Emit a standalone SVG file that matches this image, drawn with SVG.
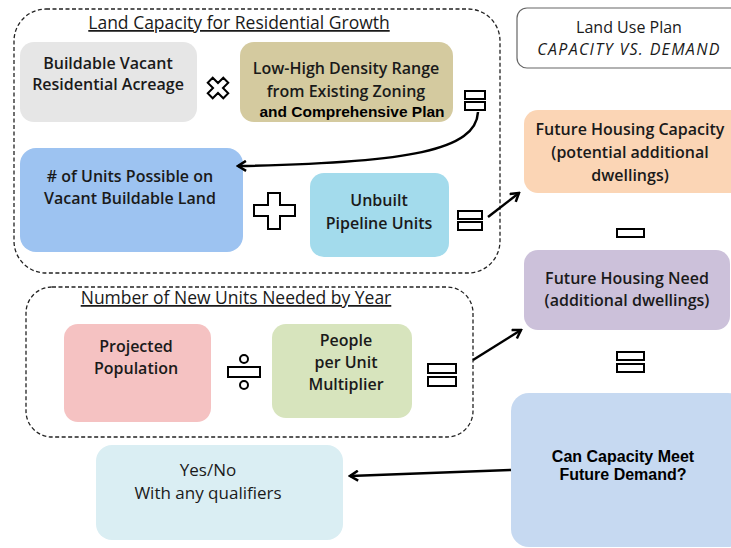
<svg xmlns="http://www.w3.org/2000/svg" width="731" height="548" viewBox="0 0 731 548">
<defs>
<style>
.t{font-family:"Open Sans",Lato,"Liberation Sans",sans-serif;font-size:16px;font-weight:600;fill:#1a1a1a;text-anchor:middle}
.a{font-family:"Liberation Sans",Arial,sans-serif;font-size:15.5px;font-weight:bold;fill:#000;text-anchor:middle}
.h{font-family:"Open Sans",Lato,"Liberation Sans",sans-serif;font-size:17.5px;font-weight:500;fill:#1a1a1a;text-anchor:middle;text-decoration:underline}
.grp{fill:none;stroke:#222;stroke-width:1.3;stroke-dasharray:4 2.5}
.sym{fill:#fff;stroke:#000;stroke-width:2}
.con{fill:none;stroke:#000;stroke-width:2.5}
</style>
<marker id="arr" viewBox="0 0 12 12" refX="10" refY="6" markerWidth="12" markerHeight="12" markerUnits="userSpaceOnUse" orient="auto">
<path d="M2,1 L10,6 L2,11" fill="none" stroke="#000" stroke-width="2.5"/>
</marker>
</defs>

<g id="group-land-capacity">
<rect class="grp" x="14" y="9" width="486" height="264" rx="32"/>
<text class="h" x="239" y="29">Land Capacity for Residential Growth</text>
</g>

<g id="group-new-units">
<rect class="grp" x="26" y="287" width="447" height="150" rx="26"/>
<text class="h" x="236" y="304">Number of New Units Needed by Year</text>
</g>

<g id="node-buildable">
<rect x="20" y="42" width="177" height="80" rx="14" fill="#e6e6e6"/>
<text class="t" x="108" y="69">Buildable Vacant</text>
<text class="t" x="108" y="90">Residential Acreage</text>
</g>

<g id="op-multiply">
<path class="sym" transform="translate(218,88) rotate(45)" d="M-3.5,-11 H3.5 V-3.5 H11 V3.5 H3.5 V11 H-3.5 V3.5 H-11 V-3.5 H-3.5 Z"/>
</g>

<g id="node-density">
<rect x="240" y="42" width="213" height="80" rx="14" fill="#d4ca9f"/>
<text class="t" x="346" y="74">Low-High Density Range</text>
<text class="t" x="346" y="97">from Existing Zoning</text>
<text class="a" x="352" y="117">and Comprehensive Plan</text>
</g>

<g id="op-equals-1">
<rect class="sym" x="465" y="91" width="20" height="8"/>
<rect class="sym" x="465" y="102" width="20" height="8"/>
</g>

<g id="node-units-possible">
<rect x="20" y="148" width="223" height="104" rx="16" fill="#9dc3f1"/>
<text class="t" x="130" y="182"># of Units Possible on</text>
<text class="t" x="130" y="204">Vacant Buildable Land</text>
</g>

<g id="op-plus">
<path class="sym" d="M268,193 H280 V205 H295 V216 H280 V229 H268 V216 H254 V205 H268 Z"/>
</g>

<g id="node-pipeline">
<rect x="310" y="173" width="139" height="84" rx="14" fill="#a3dbec"/>
<text class="t" x="379" y="206">Unbuilt</text>
<text class="t" x="379" y="229">Pipeline Units</text>
</g>

<g id="op-equals-2">
<rect class="sym" x="458" y="211" width="24" height="8"/>
<rect class="sym" x="458" y="222" width="24" height="8"/>
</g>

<g id="node-land-use-plan">
<rect x="517" y="8" width="230" height="60" rx="10" fill="#fff" stroke="#666" stroke-width="1.2"/>
<text class="t" x="629" y="33" style="font-weight:500">Land Use Plan</text>
<text class="t" x="629" y="55" style="font-style:italic;font-weight:500;letter-spacing:1.3px">CAPACITY VS. DEMAND</text>
</g>

<g id="node-capacity">
<rect x="524" y="110" width="220" height="83" rx="14" fill="#fbd5b5"/>
<text class="t" x="630" y="135">Future Housing Capacity</text>
<text class="t" x="630" y="158">(potential additional</text>
<text class="t" x="630" y="181">dwellings)</text>
</g>

<g id="op-minus">
<rect class="sym" x="617" y="229" width="27" height="8"/>
</g>

<g id="node-need">
<rect x="524" y="250" width="206" height="80" rx="14" fill="#ccc1da"/>
<text class="t" x="627" y="284">Future Housing Need</text>
<text class="t" x="627" y="306">(additional dwellings)</text>
</g>

<g id="op-equals-3">
<rect class="sym" x="617" y="352" width="27" height="8"/>
<rect class="sym" x="617" y="364" width="27" height="8"/>
</g>

<g id="node-can-capacity">
<rect x="511" y="393" width="235" height="154" rx="18" fill="#c6d9f1"/>
<text class="a" x="623" y="462" style="font-size:16px">Can Capacity Meet</text>
<text class="a" x="623" y="480" style="font-size:16px">Future Demand?</text>
</g>

<g id="node-projected">
<rect x="64" y="324" width="147" height="98" rx="14" fill="#f5c2c2"/>
<text class="t" x="136" y="352">Projected</text>
<text class="t" x="136" y="374">Population</text>
</g>

<g id="op-divide">
<rect class="sym" x="228" y="367" width="32" height="10"/>
<circle class="sym" cx="244" cy="359" r="4"/>
<circle class="sym" cx="244" cy="385" r="4"/>
</g>

<g id="node-people">
<rect x="272" y="324" width="140" height="94" rx="14" fill="#d7e4bd"/>
<text class="t" x="346" y="346">People</text>
<text class="t" x="346" y="368">per Unit</text>
<text class="t" x="346" y="390">Multiplier</text>
</g>

<g id="op-equals-4">
<rect class="sym" x="428" y="364" width="28" height="9"/>
<rect class="sym" x="428" y="377" width="28" height="9"/>
</g>

<g id="node-yes-no">
<rect x="96" y="445" width="247" height="95" rx="16" fill="#daeef3"/>
<text class="t" x="208" y="476" style="font-weight:500;font-size:17px">Yes/No</text>
<text class="t" x="208" y="499" style="font-weight:500;font-size:17px">With any qualifiers</text>
</g>

<g id="connectors">
<path class="con" d="M478,112 C476,150 410,163 238,166" marker-end="url(#arr)"/>
<path class="con" d="M488,217 L519,193" marker-end="url(#arr)"/>
<path class="con" d="M473,360 L521,330" marker-end="url(#arr)"/>
<path class="con" d="M511,470 L350,476" marker-end="url(#arr)"/>
</g>
</svg>
